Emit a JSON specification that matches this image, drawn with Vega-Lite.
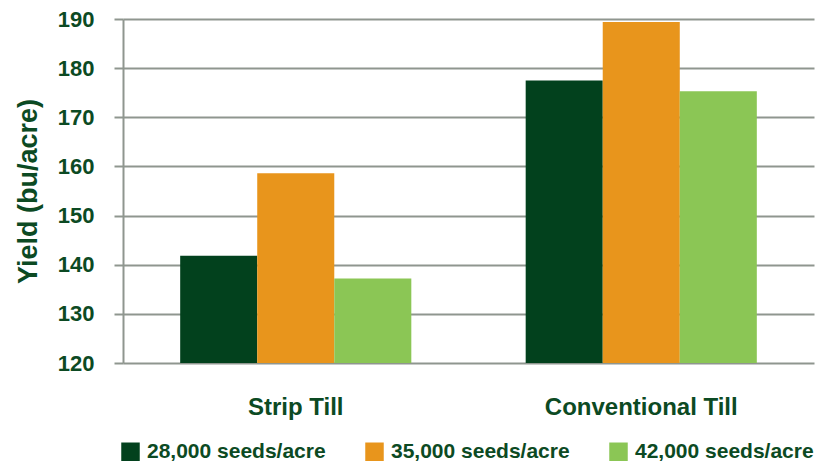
{
  "$schema": "https://vega.github.io/schema/vega-lite/v6.json",
  "width": 691,
  "height": 344,
  "autosize": "none",
  "padding": {"left": 123, "top": 19, "right": 7, "bottom": 104},
  "background": "white",
  "config": {
    "view": {"stroke": null},
    "font": "Liberation Sans"
  },
  "data": {
    "values": [
      {"tillage": "Strip Till", "seeding": "28,000 seeds/acre", "yield": 141.8},
      {"tillage": "Strip Till", "seeding": "35,000 seeds/acre", "yield": 158.6},
      {"tillage": "Strip Till", "seeding": "42,000 seeds/acre", "yield": 137.2},
      {"tillage": "Conventional Till", "seeding": "28,000 seeds/acre", "yield": 177.5},
      {"tillage": "Conventional Till", "seeding": "35,000 seeds/acre", "yield": 189.4},
      {"tillage": "Conventional Till", "seeding": "42,000 seeds/acre", "yield": 175.3}
    ]
  },
  "mark": {"type": "bar", "clip": true},
  "encoding": {
    "x": {
      "field": "tillage",
      "type": "nominal",
      "sort": ["Strip Till", "Conventional Till"],
      "scale": {"paddingInner": 0.331, "paddingOuter": 0.1655},
      "axis": {
        "title": null,
        "labelAngle": 0,
        "domain": false,
        "ticks": false,
        "tickSize": 0,
        "labelPadding": 32,
        "labelFontSize": 24,
        "labelFontWeight": "bold",
        "labelColor": "#0c4a23",
        "labelFont": "Liberation Sans",
        "labelLimit": 400
      }
    },
    "xOffset": {
      "field": "seeding",
      "type": "nominal",
      "sort": ["28,000 seeds/acre", "35,000 seeds/acre", "42,000 seeds/acre"],
      "scale": {"paddingInner": 0, "paddingOuter": 0}
    },
    "y": {
      "field": "yield",
      "type": "quantitative",
      "scale": {"domain": [120, 190], "zero": false, "nice": false},
      "axis": {
        "values": [120, 130, 140, 150, 160, 170, 180, 190],
        "grid": true,
        "gridColor": "#8f968f",
        "gridWidth": 2,
        "gridOpacity": 1,
        "domainColor": "#8f968f",
        "domainWidth": 2,
        "tickColor": "#8f968f",
        "tickWidth": 2,
        "tickSize": 9,
        "labelPadding": 20,
        "labelFontSize": 22,
        "labelFontWeight": "bold",
        "labelColor": "#0c4a23",
        "labelFont": "Liberation Sans",
        "title": "Yield (bu/acre)",
        "titleFontSize": 27,
        "titleFontWeight": "bold",
        "titleColor": "#0c4a23",
        "titleFont": "Liberation Sans",
        "titlePadding": 15
      }
    },
    "color": {
      "field": "seeding",
      "type": "nominal",
      "sort": ["28,000 seeds/acre", "35,000 seeds/acre", "42,000 seeds/acre"],
      "scale": {"range": ["#02411d", "#e8951c", "#8bc655"]},
      "legend": {
        "title": null,
        "orient": "none",
        "direction": "horizontal",
        "legendX": -3,
        "legendY": 422,
        "symbolType": "square",
        "symbolSize": 342,
        "symbolStrokeWidth": 0,
        "symbolOpacity": 1,
        "labelFontSize": 21,
        "labelFontWeight": "bold",
        "labelColor": "#0c4a23",
        "labelFont": "Liberation Sans",
        "labelOffset": 6,
        "labelLimit": 300,
        "columnPadding": 38
      }
    }
  }
}
